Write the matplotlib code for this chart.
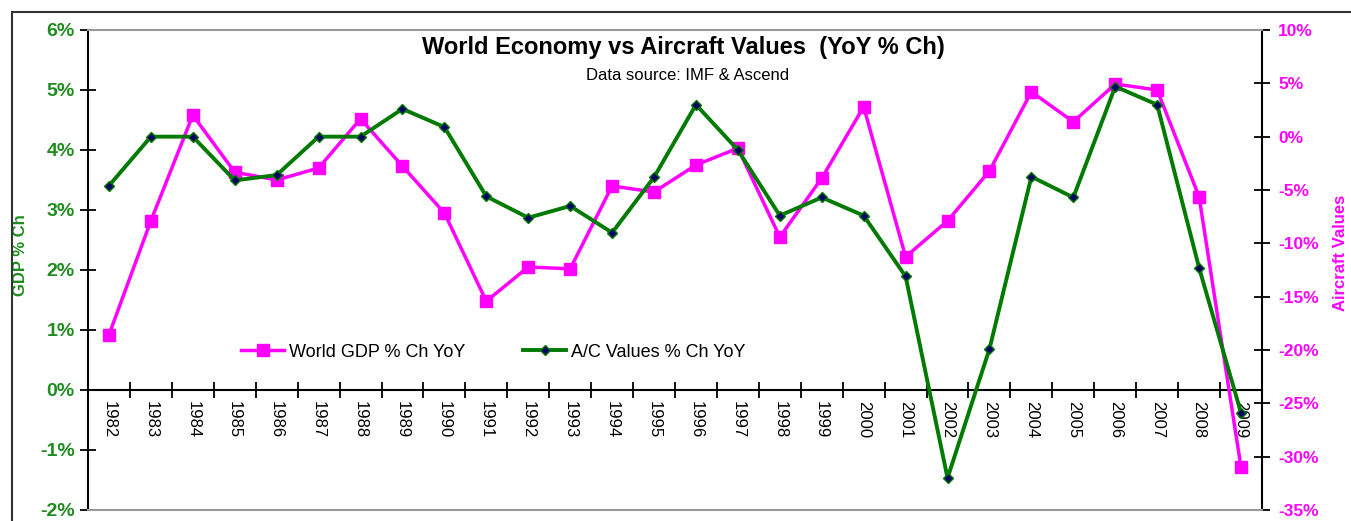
import matplotlib
matplotlib.use("Agg")
import matplotlib.pyplot as plt
from matplotlib.lines import Line2D
from matplotlib.ticker import FuncFormatter, FixedLocator, NullFormatter

plt.rcParams['font.family'] = ['Liberation Sans', 'DejaVu Sans']

# data
years = [str(y) for y in range(1982, 2010)]
gdp_pct = [0.92, 2.82, 4.58, 3.63, 3.50, 3.70, 4.52, 3.73, 2.95, 1.48,
           2.05, 2.02, 3.40, 3.30, 3.75, 4.03, 2.55, 3.53, 4.72, 2.22,
           2.82, 3.65, 4.97, 4.47, 5.10, 5.00, 3.22, -1.29]
ac_pct = [-4.6, 0.0, 0.0, -4.1, -3.6, 0.0, 0.0, 2.6, 0.9, -5.6,
          -7.6, -6.5, -9.0, -3.8, 3.0, -1.25, -7.4, -5.7, -7.4, -13.1,
          -32.0, -19.9, -3.75, -5.7, 4.7, 3.0, -12.3, -25.9]

pink = '#FF00FF'
green = '#007A00'
navy = '#000066'

fig = plt.figure(figsize=(13.51, 5.21), dpi=100)
ax = fig.add_axes([88/1351, 11/521, (1262-88)/1351, 480/521])
ax2 = ax.twinx()

x = list(range(len(years)))
l1, = ax.plot(x, gdp_pct, color=pink, lw=2.5, marker='s', ms=8,
              mfc=pink, mec=pink, label='World GDP % Ch YoY', zorder=3)
l2, = ax2.plot(x, ac_pct, color=green, lw=2.8, marker='D', ms=5,
               mfc=navy, mec=green, mew=1, label='A/C Values % Ch YoY', zorder=4)

ax.set_xlim(-0.5, len(years) - 0.5)
ax.set_ylim(-2, 6)
ax2.set_ylim(-35, 10)

# left axis
ax.set_yticks(range(-2, 7))
ax.yaxis.set_major_formatter(FuncFormatter(lambda v, p: '%d%%' % v))
ax.tick_params(axis='y', direction='inout', length=11, width=1.3,
               labelsize=14, labelcolor='#1E8C1E', pad=4)
for t in ax.get_yticklabels():
    t.set_fontweight('bold')
ax.set_ylabel('GDP % Ch', color='#1E8C1E', fontsize=12, fontweight='bold')
ax.yaxis.set_label_coords(-60/1174, 0.53)

# right axis
ax2.set_yticks(range(-35, 11, 5))
ax2.yaxis.set_major_formatter(FuncFormatter(lambda v, p: '%d%%' % v))
ax2.tick_params(axis='y', direction='inout', length=11, width=1.3,
                labelsize=12.5, labelcolor=pink, pad=6)
for t in ax2.get_yticklabels():
    t.set_fontweight('bold')
ax2.set_ylabel('Aircraft Values', color=pink, fontsize=12, fontweight='bold')
ax2.yaxis.set_label_coords(1 + 71/1174, 0.535)

# category axis crossing at 0%
ax.spines['bottom'].set_position(('data', 0))
ax.spines['bottom'].set_linewidth(1.5)
ax.set_xticks(x)
ax.set_xticklabels(years, rotation=270, fontsize=12)
ax.tick_params(axis='x', length=0, pad=8)
ax.xaxis.set_minor_locator(FixedLocator([i + 0.5 for i in x[:-1]]))
ax.xaxis.set_minor_formatter(NullFormatter())
ax.tick_params(axis='x', which='minor', direction='inout', length=11, width=1.3)

ax.spines['left'].set_linewidth(1.5)
ax2.spines['right'].set_linewidth(1.5)
ax.spines['top'].set_visible(False)
ax.spines['right'].set_visible(False)
ax2.spines['left'].set_visible(False)
ax2.spines['top'].set_color('#999999')
ax2.spines['bottom'].set_color('#999999')
ax2.spines['top'].set_linewidth(1.5)
ax2.spines['bottom'].set_linewidth(1.5)

ax.legend(handles=[l1, l2], loc='center', bbox_to_anchor=(0.345, 0.329),
          ncol=2, frameon=False, fontsize=13, columnspacing=3.2,
          handlelength=2.4, handletextpad=0.25)

fig.text(683/1351, 1 - 47/521, 'World Economy vs Aircraft Values  (YoY % Ch)',
         ha='center', va='center', fontsize=17, fontweight='bold')
fig.text(688/1351, 1 - 75/521, 'Data source: IMF & Ascend',
         ha='center', va='center', fontsize=12)

# outer chart frame
fig.add_artist(Line2D([12/1351, 1], [1 - 12/521, 1 - 12/521],
                      transform=fig.transFigure, color='#333333', lw=1.5))
fig.add_artist(Line2D([12/1351, 12/1351], [0, 1 - 12/521],
                      transform=fig.transFigure, color='#333333', lw=1.5))

fig.savefig('out.png', dpi=100)
